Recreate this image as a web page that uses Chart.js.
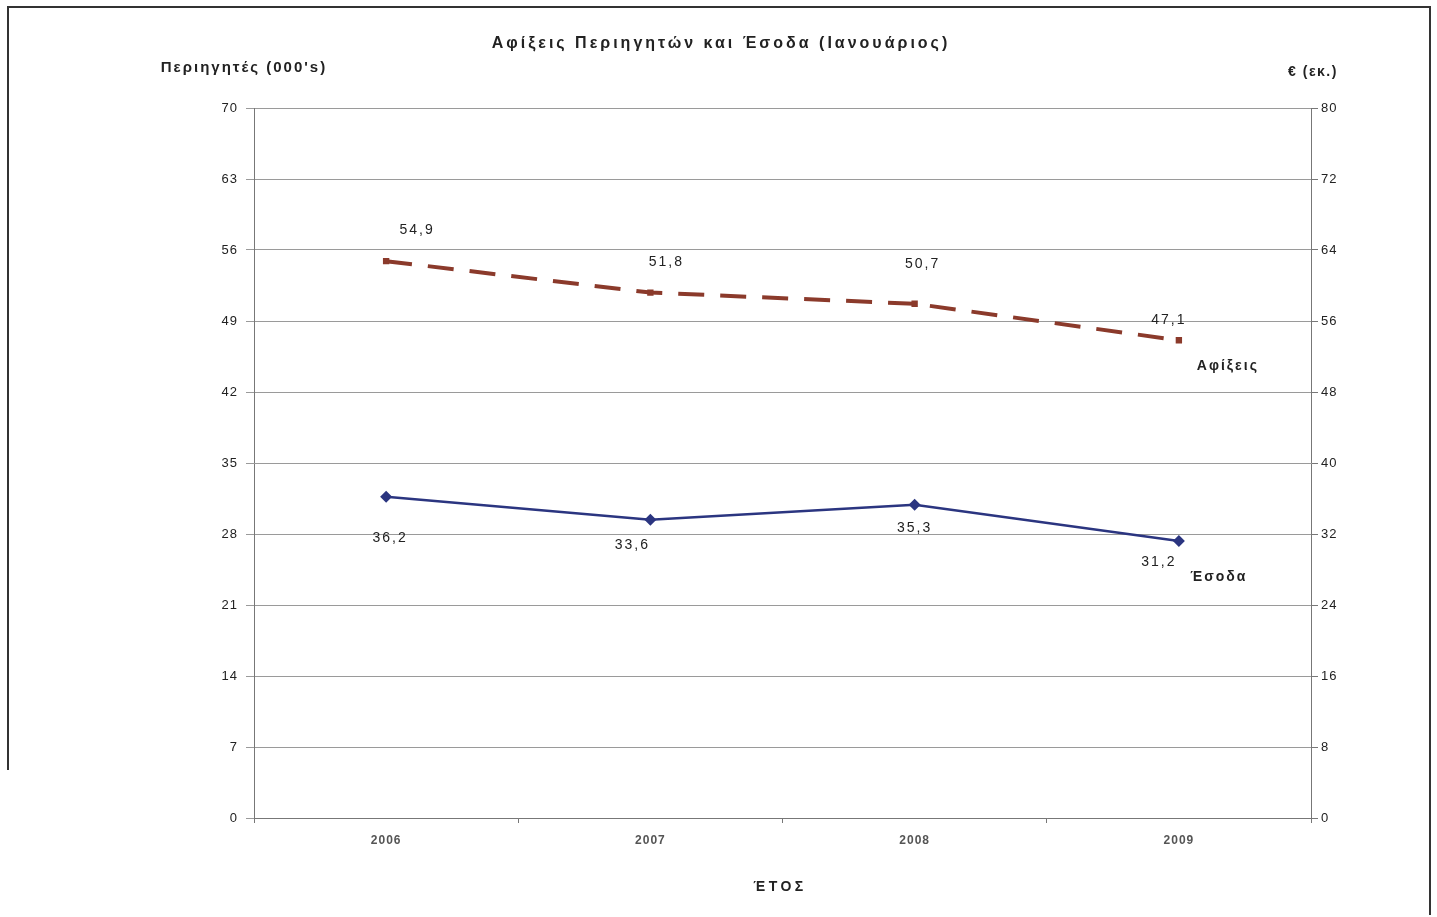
<!DOCTYPE html>
<html>
<head>
<meta charset="utf-8">
<script src="https://cdn.jsdelivr.net/npm/chart.js@4.4.0/dist/chart.umd.min.js"></script>
<style>
  html, body { margin: 0; padding: 0; background: #fff; }
  #wrap { width: 1437px; height: 917px; }
</style>
</head>
<body>
<div id="wrap"><canvas id="myChart" width="1437" height="917"></canvas></div>
<script>
// 데이터
var years = ["2006", "2007", "2008", "2009"];
var arrivals = [54.9, 51.8, 50.7, 47.1];   // 좌측 축 (000's)
var revenue = [36.2, 33.6, 35.3, 31.2];    // 우측 축 (€ εκ.)
var leftTicks = [0, 7, 14, 21, 28, 35, 42, 49, 56, 63, 70];
var rightTicks = [0, 8, 16, 24, 32, 40, 48, 56, 64, 72, 80];

var FONT = "'Liberation Sans', Arial, sans-serif";

// 값 라벨 위치 (점 기준 오프셋)
var arrOffsets = [[31, -31], [16, -30], [8, -40], [-10, -20]];
var revOffsets = [[4, 41], [-18, 25], [0, 23], [-20, 21]];

// 텍스트 그리기 플러그인
var textPlugin = {
    id: 'texts',
    beforeDraw: function(chart) {
        var ctx = chart.ctx;
        ctx.save();
        ctx.strokeStyle = '#333';
        ctx.lineWidth = 2;
        ctx.beginPath();
        ctx.moveTo(8, 770); ctx.lineTo(8, 7); ctx.lineTo(1430, 7); ctx.lineTo(1430, 915);
        ctx.stroke();
        ctx.restore();
        ctx.letterSpacing = '1px';
    },
    afterDatasetsDraw: function(chart) {
        var ctx = chart.ctx;
        ctx.save();
        ctx.fillStyle = '#222';
        ctx.textAlign = 'center';
        ctx.textBaseline = 'middle';

        ctx.letterSpacing = '3px';
        ctx.font = 'bold 16px ' + FONT;
        ctx.fillText('Αφίξεις Περιηγητών και Έσοδα (Ιανουάριος)', 721, 44);
        ctx.font = 'bold 15px ' + FONT;
        ctx.letterSpacing = '2px';
        ctx.fillText("Περιηγητές (000's)", 244, 68);
        ctx.font = 'bold 14px ' + FONT;
        ctx.letterSpacing = '1.5px';
        ctx.fillText('€ (εκ.)', 1313, 72);
        ctx.letterSpacing = '3.5px';
        ctx.fillText('ΈΤΟΣ', 780, 887);

        ctx.letterSpacing = '2px';
        ctx.font = '14px ' + FONT;
        var m0 = chart.getDatasetMeta(0);
        var m1 = chart.getDatasetMeta(1);
        m0.data.forEach(function(pt, i) {
            ctx.fillText(String(arrivals[i]).replace('.', ','), pt.x + arrOffsets[i][0], pt.y + arrOffsets[i][1]);
        });
        m1.data.forEach(function(pt, i) {
            ctx.fillText(String(revenue[i]).replace('.', ','), pt.x + revOffsets[i][0], pt.y + revOffsets[i][1]);
        });

        ctx.font = 'bold 14px ' + FONT;
        ctx.letterSpacing = '2px';
        var la = m0.data[m0.data.length - 1];
        ctx.fillText('Αφίξεις', la.x + 49, la.y + 26);
        var lr = m1.data[m1.data.length - 1];
        ctx.fillText('Έσοδα', lr.x + 40, lr.y + 36);
        ctx.restore();
    }
};

function mkchart(cid) {
    return new Chart(document.getElementById(cid), {
        type: 'line',
        data: {
            labels: years,
            datasets: [
                {
                    label: 'Αφίξεις',
                    data: arrivals,
                    yAxisID: 'y',
                    borderColor: '#8b3a2b',
                    backgroundColor: '#8b3a2b',
                    borderWidth: 4,
                    borderDash: [26, 16],
                    pointStyle: 'rect',
                    pointRadius: 4.5,
                    pointBorderWidth: 0,
                    tension: 0
                },
                {
                    label: 'Έσοδα',
                    data: revenue,
                    yAxisID: 'y1',
                    borderColor: '#2b3580',
                    backgroundColor: '#2b3580',
                    borderWidth: 2.5,
                    pointStyle: 'rectRot',
                    pointRadius: 6,
                    pointBorderWidth: 0,
                    tension: 0
                }
            ]
        },
        options: {
            responsive: false,
            animation: false,
            layout: { padding: { top: 108, left: 0, right: 0, bottom: 0 } },
            plugins: {
                legend: { display: false },
                title: { display: false },
                tooltip: { enabled: false }
            },
            scales: {
                x: {
                    offset: true,
                    afterFit: function(s) { s.height = 99; },
                    grid: { display: true, drawOnChartArea: false, offset: true, tickLength: 5, color: '#777' },
                    border: { color: '#777', width: 1 },
                    ticks: { color: '#555', font: { family: FONT, size: 12, weight: 'bold' }, padding: 10 }
                },
                y: {
                    position: 'left',
                    min: 0, max: 70,
                    afterFit: function(s) { s.width = 254; },
                    afterBuildTicks: function(s) { s.ticks = leftTicks.map(function(v) { return { value: v }; }); },
                    grid: { color: '#9a9a9a', lineWidth: 1, tickLength: 8 },
                    border: { color: '#777', width: 1 },
                    ticks: { color: '#222', font: { family: FONT, size: 13 }, padding: 8 }
                },
                y1: {
                    position: 'right',
                    min: 0, max: 80,
                    afterFit: function(s) { s.width = 126; },
                    afterBuildTicks: function(s) { s.ticks = rightTicks.map(function(v) { return { value: v }; }); },
                    grid: { drawOnChartArea: false, color: '#777', tickLength: 7 },
                    border: { color: '#777', width: 1 },
                    ticks: { color: '#222', font: { family: FONT, size: 13 }, padding: 3 }
                }
            }
        },
        plugins: [textPlugin]
    });
}

window.onload = function() {
    mkchart('myChart');
};
</script>
</body>
</html>
